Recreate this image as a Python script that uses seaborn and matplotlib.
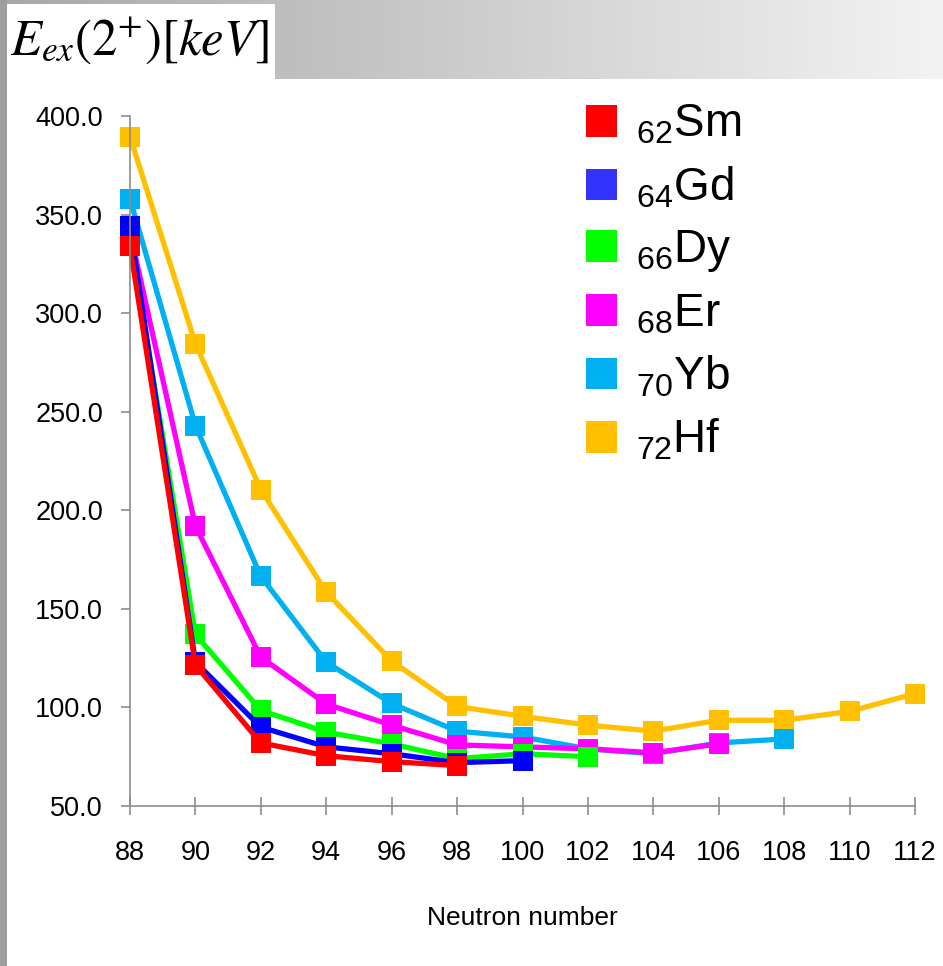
import numpy as np
import pandas as pd
import matplotlib
matplotlib.use("Agg")
import matplotlib.pyplot as plt
from matplotlib.patches import Rectangle, Patch
import seaborn as sns

# Neutron numbers and first 2+ excitation energies (keV) per isotope chain
neutrons = [88, 90, 92, 94, 96, 98, 100, 102, 104, 106, 108, 110, 112]

sm_energy = [334.0, 121.5, 82.0, 75.5, 72.5, 70.5]
gd_energy = [344.0, 123.0, 90.0, 80.0, 76.5, 72.0, 73.0]
dy_energy = [338.0, 137.0, 98.5, 87.5, 81.5, 74.0, 76.5, 75.0]
er_energy = [341.0, 192.0, 125.5, 101.7, 91.0, 81.0, 80.0, 79.0, 77.0, 81.5]
yb_energy = [358.0, 243.0, 166.5, 123.0, 102.0, 88.0, 85.0, 79.0, 76.5, 82.0, 84.0]
hf_energy = [389.5, 284.5, 210.5, 158.5, 123.5, 100.5, 95.5, 91.0, 88.0, 93.5, 93.5, 98.0, 107.0]

elements = ["Sm", "Gd", "Dy", "Er", "Yb", "Hf"]
proton_numbers = [62, 64, 66, 68, 70, 72]
series = [sm_energy, gd_energy, dy_energy, er_energy, yb_energy, hf_energy]
line_colors = ["#ff0000", "#0000ff", "#00ff00", "#ff00ff", "#00b0f0", "#ffc000"]
legend_colors = ["#ff0000", "#3333ff", "#00ff00", "#ff00ff", "#00b0f0", "#ffc000"]

y_ticks = [50, 100, 150, 200, 250, 300, 350, 400]

rows = []
for el, vals in zip(elements, series):
    for n, e in zip(neutrons, vals):
        rows.append({"element": el, "N": n, "E": e})
df = pd.DataFrame(rows)

sns.set_theme(style="white")
plt.rcParams["font.family"] = ["Liberation Sans", "DejaVu Sans"]
plt.rcParams["text.color"] = "black"
plt.rcParams["mathtext.fontset"] = "custom"
plt.rcParams["mathtext.rm"] = "Liberation Sans"
plt.rcParams["mathtext.it"] = "Liberation Sans:italic"
plt.rcParams["mathtext.bf"] = "Liberation Sans:bold"

W, H = 943, 966
fig = plt.figure(figsize=(W / 100, H / 100), dpi=100, facecolor="white")

# header band: grey gradient across the top
band_h = 79
xs = np.arange(W)
vals = (167 + 0.0808 * xs) / 255.0
vals = np.clip(vals, 0, 1)
grad = np.repeat(np.repeat(vals[None, :, None], band_h, axis=0), 3, axis=2)
fig.figimage(grad, xo=0, yo=H - band_h, origin="upper")

# white title box and left grey strip
fig.add_artist(Rectangle((7 / W, (H - band_h) / H), 268 / W, 75 / H,
                         transform=fig.transFigure, facecolor="white",
                         edgecolor="none", zorder=1))
fig.add_artist(Rectangle((0, 0), 7 / W, 1, transform=fig.transFigure,
                         facecolor="#9e9e9e", edgecolor="none", zorder=1))

fig.text(10 / W, 1 - 41 / H, r"$E_{ex}(2^{+})[keV]$", fontsize=36.5,
         ha="left", va="center", math_fontfamily="stix", color="black")

ax = fig.add_axes([130 / W, 160 / H, 785 / W, 690 / H])
ax.set_facecolor("none")

draw_order = elements[::-1]
palette = dict(zip(elements, line_colors))
sns.lineplot(data=df, x="N", y="E", hue="element", hue_order=draw_order,
             palette=palette, marker="s", markersize=14.5, markeredgewidth=0,
             linewidth=3.8, legend=False, ax=ax, clip_on=False)
for ln in ax.lines:
    ln.set_clip_on(False)

ax.set_xlim(88, 112)
ax.set_ylim(50, 400)
ax.set_xticks(neutrons)
ax.set_xticklabels([str(n) for n in neutrons])
ax.set_yticks(y_ticks)
ax.set_yticklabels([f"{v:.1f}" for v in y_ticks])

for side in ["top", "right"]:
    ax.spines[side].set_visible(False)
for side in ["left", "bottom"]:
    ax.spines[side].set_color("#8c8c8c")
    ax.spines[side].set_linewidth(1.2)

ax.tick_params(axis="y", direction="out", length=6.5, width=1.2,
               color="#8c8c8c", labelsize=19.5, pad=13, labelcolor="black",
               left=True)
ax.tick_params(axis="x", direction="inout", length=13, width=1.2,
               color="#8c8c8c", labelsize=19.5, pad=18, labelcolor="black",
               bottom=True)

ax.set_xlabel("Neutron number", fontsize=19, color="black")
ax.set_ylabel("")
ax.xaxis.set_label_coords(0.5, -0.145)
ax.xaxis.label.set_va("top")

handles = [Patch(facecolor=c, edgecolor="none") for c in legend_colors]
labels = [rf"$_{{{z}}}$" + el for z, el in zip(proton_numbers, elements)]
leg = fig.legend(handles, labels, loc="upper left",
                 bbox_to_anchor=(586 / W, 1 - 103 / H), frameon=False,
                 fontsize=33, handlelength=0.68, handleheight=0.68,
                 handletextpad=0.4, labelspacing=0.39, borderpad=0,
                 borderaxespad=0)
for t in leg.get_texts():
    t.set_color("black")

fig.savefig("out.png", dpi=100, facecolor="white")
